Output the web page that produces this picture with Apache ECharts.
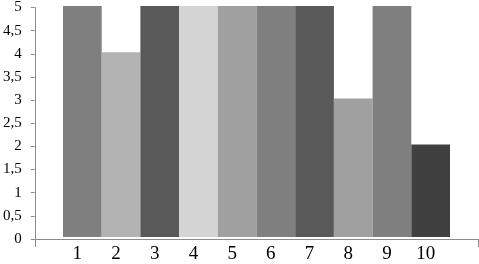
<!DOCTYPE html>
<html>
<head>
<meta charset="utf-8">
<script src="https://cdn.jsdelivr.net/npm/echarts@6/dist/echarts.min.js"></script>
<style>html,body{margin:0;padding:0;background:#fff}#c{width:479px;height:264px}</style>
</head>
<body>
<div id="c"></div>
<script>
var categories = ['1','2','3','4','5','6','7','8','9','10'];
var values = [5, 4, 5, 5, 5, 5, 5, 3, 5, 2];
var barColors = ['#7f7f7f','#b3b3b3','#595959','#d4d4d4','#a0a0a0','#7f7f7f','#595959','#a0a0a0','#7f7f7f','#404040'];
var yMin = 0, yMax = 5, yStep = 0.5;

var chart = echarts.init(document.getElementById('c'));
var font = 'Liberation Serif';
chart.setOption({
  animation: false,
  backgroundColor: '#fff',
  grid: [
    {left: 33, right: 1, top: 6, bottom: 25},
    {left: 63, right: 29, top: 6, bottom: 25}
  ],
  xAxis: [
    {gridIndex: 0, type: 'category', data: [''],
     axisLine: {show: true, lineStyle: {color: '#8c8c8c', width: 1}},
     axisTick: {show: true, length: 8, lineStyle: {color: '#8c8c8c'}},
     axisLabel: {show: false}, splitLine: {show: false}},
    {gridIndex: 1, type: 'category', data: categories,
     axisLine: {show: false}, axisTick: {show: false},
     axisLabel: {show: true, fontFamily: font, fontSize: 19, color: '#000', margin: 8, padding: [0, 10, 0, 0]},
     splitLine: {show: false}}
  ],
  yAxis: [
    {gridIndex: 0, type: 'value', min: yMin, max: yMax, interval: yStep,
     axisLine: {show: true, lineStyle: {color: '#8c8c8c', width: 1}},
     axisTick: {show: true, length: 4, lineStyle: {color: '#8c8c8c'}},
     axisLabel: {fontFamily: font, fontSize: 15, color: '#000', margin: 13,
       formatter: function (v) { return String(v).replace('.', ','); }},
     splitLine: {show: false}},
    {gridIndex: 1, type: 'value', min: yMin, max: yMax, interval: yStep, show: false}
  ],
  series: [{
    type: 'bar', xAxisIndex: 1, yAxisIndex: 1,
    barWidth: '100%', barCategoryGap: 0,
    data: values.map(function (v, i) { return {value: v, itemStyle: {color: barColors[i]}}; })
  }]
});
</script>
</body>
</html>
